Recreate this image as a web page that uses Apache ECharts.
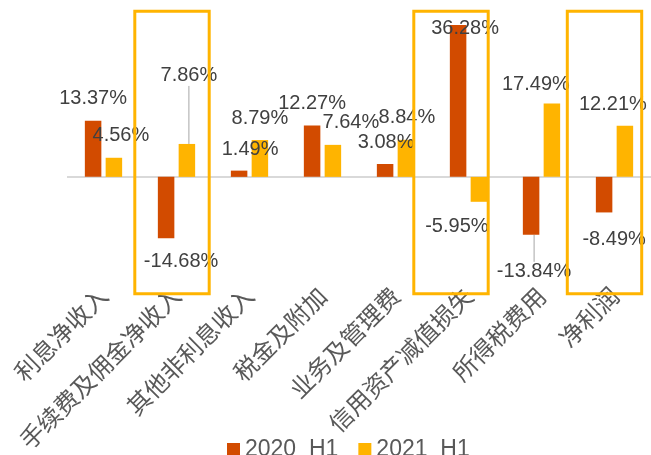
<!DOCTYPE html>
<html>
<head>
<meta charset="utf-8">
<script src="https://cdn.jsdelivr.net/npm/echarts@6/dist/echarts.min.js"></script>
<style>
html,body{margin:0;padding:0;background:#fff;}
#chart{width:651px;height:455px;}
</style>
</head>
<body>
<div id="chart"></div>
<script>
// ---- data ----
const categories = ['利息净收入', '手续费及佣金净收入', '其他非利息收入', '税金及附加', '业务及管理费', '信用资产减值损失', '所得税费用', '净利润'];
const seriesNames = ['2020  H1', '2021  H1'];
const values2020 = [13.37, -14.68, 1.49, 12.27, 3.08, 36.28, -13.84, -8.49];
const values2021 = [4.56, 7.86, 8.79, 7.64, 8.84, -5.95, 17.49, 12.21];
const highlighted = ['手续费及佣金净收入', '信用资产减值损失', '净利润'];

// ---- style (label nudges, leader lines, box offsets) ----
const labelNudge2020 = [[0,0],[15,1],[11,1],[0,0],[1,1],[7,26],[3,15],[10,5]];
const labelNudge2021 = [[7,0],[2,-46],[0,0],[18,0],[1,0],[-22,3],[-16,3],[-12,1]];
const leader2020 = [false,false,false,false,false,false,true,false];
const leader2021 = [false,true,false,false,false,false,false,false];
const boxShift = [-4.5, -17.5, -10];

const colors = ['#D24B00', '#FFB400'];
const numFont = '"Liberation Sans", Arial, "Noto Sans CJK SC", sans-serif';

function buildData(vals, leaders) {
  return vals.map((v, i) => ({
    value: v,
    label: { position: v >= 0 ? 'top' : 'bottom' },
    labelLine: { show: leaders[i], lineStyle: { color: '#A6A6A6', width: 1 } }
  }));
}

function makeSeries(idx, vals, nudges, leaders) {
  return {
    name: seriesNames[idx],
    type: 'bar',
    barWidth: 16.5,
    barGap: '26%',
    itemStyle: { color: colors[idx] },
    data: buildData(vals, leaders),
    label: {
      show: true,
      distance: 12,
      fontSize: 20,
      fontFamily: numFont,
      color: '#404040',
      formatter: p => p.value.toFixed(2) + '%'
    },
    labelLayout: p => ({ dx: nudges[p.dataIndex][0], dy: nudges[p.dataIndex][1] })
  };
}

const chart = echarts.init(document.getElementById('chart'), null, { renderer: 'canvas' });
const s0 = makeSeries(0, values2020, labelNudge2020, leader2020);
s0.markLine = {
  silent: true,
  symbol: 'none',
  label: { show: false },
  lineStyle: { color: '#D9D9D9', width: 2, type: 'solid' },
  data: [{ yAxis: 0 }],
  z: 1
};
const s1 = makeSeries(1, values2021, labelNudge2021, leader2021);

chart.setOption({
  animation: false,
  color: colors,
  grid: { left: 67, top: 9.3, width: 588, height: 253, containLabel: false },
  legend: {
    data: seriesNames,
    left: 222,
    top: 433,
    icon: 'rect',
    itemWidth: 13,
    itemHeight: 13,
    itemGap: 20,
    textStyle: { fontSize: 23, fontFamily: numFont, color: '#595959' }
  },
  xAxis: {
    type: 'category',
    data: categories,
    axisLine: { show: false, onZero: false },
    axisTick: { show: false },
    axisLabel: {
      interval: 0,
      rotate: 45,
      margin: 31,
      fontSize: 24,
      fontFamily: '"Noto Sans CJK SC", sans-serif',
      color: '#595959'
    }
  },
  yAxis: {
    type: 'value',
    min: -20,
    max: 40,
    show: false,
    splitLine: { show: false }
  },
  series: [s0, s1]
});

// highlight boxes around selected categories
const boxTop = 11.3, boxBottom = 293.7, boxW = 74.4;
const boxes = highlighted.map((c, k) => {
  const cx = chart.convertToPixel({ xAxisIndex: 0 }, c) + boxShift[k];
  return {
    type: 'rect',
    shape: { x: cx - boxW / 2, y: boxTop, width: boxW, height: boxBottom - boxTop },
    style: { fill: 'none', stroke: '#FFB400', lineWidth: 3 },
    z: 100
  };
});
chart.setOption({ graphic: boxes });
</script>
</body>
</html>
